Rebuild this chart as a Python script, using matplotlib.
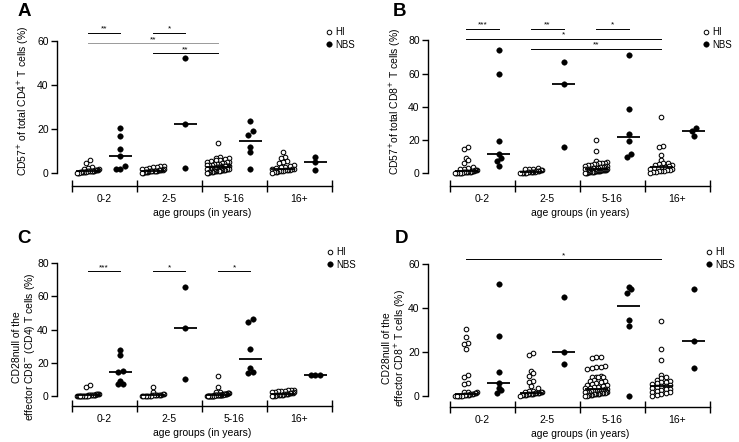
import numpy as np
import matplotlib
matplotlib.use('Agg')
import matplotlib.pyplot as plt
from matplotlib.lines import Line2D

plt.rcParams['font.family'] = ['Liberation Sans', 'DejaVu Sans']

W, H = 739, 442
groups = ['0-2', '2-5', '5-16', '16+']

# ---------------- data (values in %) ----------------
# Panel A: CD57+ of total CD4+ T cells
a_hi = [
    [6.1, 4.5, 2.6, 2.2, 1.9, 1.7, 1.5, 1.4, 1.3, 1.2, 1.1, 1.0, 1.0, 0.9, 0.9,
     0.8, 0.8, 0.7, 0.7, 0.6, 0.6, 0.5, 0.5, 0.4, 0.4, 0.3, 0.3, 0.2, 0.2, 0.1],
    [3.3, 3.1, 2.9, 2.6, 2.3, 2.0, 1.8, 1.6, 1.5, 1.4, 1.3, 1.2, 1.1, 1.0, 0.9,
     0.9, 0.8, 0.7, 0.7, 0.6, 0.5, 0.4, 0.3, 0.2, 0.1],
    [13.8, 7.2, 7.0, 6.8, 6.5, 6.0, 5.8, 5.5, 5.2, 5.0, 4.8, 4.6, 4.4, 4.2, 4.0,
     3.9, 3.8, 3.6, 3.5, 3.4, 3.3, 3.2, 3.1, 3.0, 3.0, 2.9, 2.8, 2.7, 2.6, 2.6,
     2.5, 2.4, 2.3, 2.3, 2.2, 2.1, 2.0, 2.0, 1.9, 1.8, 1.7, 1.7, 1.6, 1.5, 1.4,
     1.4, 1.3, 1.2, 1.1, 1.0, 1.0, 0.9, 0.8, 0.7, 0.6, 0.5, 0.4, 0.3, 0.2, 0.1],
    [9.5, 7.2, 6.8, 5.5, 5.0, 4.5, 3.6, 3.2, 2.8, 2.5, 2.2, 2.0, 1.8, 1.6, 1.5,
     1.4, 1.3, 1.2, 1.0, 0.9, 0.8, 0.6, 0.5, 0.3, 0.2],
]
a_nbs = [
    [20.6, 16.7, 10.8, 7.8, 3.2, 2.0, 2.0],
    [52.3, 22.0, 2.3],
    [23.6, 18.9, 17.4, 11.8, 9.5, 1.7],
    [7.1, 5.0, 1.5],
]

# Panel B: CD57+ of total CD8+ T cells
b_hi = [
    [15.8, 14.5, 9.3, 8.1, 6.3, 3.5, 3.0, 2.6, 2.2, 2.0, 1.8, 1.6, 1.4, 1.2, 1.0,
     0.9, 0.8, 0.7, 0.6, 0.5, 0.5, 0.4, 0.4, 0.3, 0.3, 0.2, 0.2, 0.1, 0.1, 0.0],
    [2.9, 2.7, 2.5, 2.2, 1.9, 1.6, 1.4, 1.2, 1.0, 0.9, 0.8, 0.7, 0.6, 0.5, 0.4,
     0.3, 0.3, 0.2, 0.1, 0.0],
    [20.2, 13.1, 7.0, 6.5, 6.2, 6.0, 5.8, 5.5, 5.2, 5.0, 4.8, 4.5, 4.3, 4.0, 3.8,
     3.6, 3.4, 3.2, 3.0, 2.9, 2.8, 2.6, 2.5, 2.4, 2.3, 2.2, 2.1, 2.0, 1.9, 1.8,
     1.7, 1.6, 1.5, 1.4, 1.3, 1.2, 1.1, 1.0, 0.9, 0.8, 0.7, 0.6, 0.5, 0.4, 0.3,
     0.2, 0.1],
    [33.9, 16.2, 15.5, 11.1, 8.1, 6.2, 5.8, 5.5, 5.0, 4.6, 4.2, 3.8, 3.4, 3.0, 2.8,
     2.5, 2.2, 2.0, 1.8, 1.5, 1.2, 1.0, 0.7, 0.4, 0.1],
]
b_nbs = [
    [74.3, 59.8, 19.3, 11.2, 9.0, 7.2, 4.0],
    [67.3, 53.7, 15.4],
    [71.1, 38.4, 23.8, 19.4, 11.3, 9.7],
    [27.3, 25.4, 22.6],
]

# Panel C: CD28null of the effector CD8- (CD4) T cells
c_hi = [
    [6.4, 5.6, 1.5, 1.3, 1.2, 1.0, 0.9, 0.8, 0.7, 0.6, 0.6, 0.5, 0.5, 0.4, 0.4,
     0.3, 0.3, 0.3, 0.2, 0.2, 0.2, 0.1, 0.1, 0.1, 0.0, 0.0, 0.0, 0.0],
    [5.2, 2.2, 1.2, 1.0, 0.9, 0.8, 0.7, 0.6, 0.5, 0.5, 0.4, 0.4, 0.3, 0.3, 0.2,
     0.2, 0.1, 0.1, 0.0, 0.0],
    [12.1, 5.4, 2.4, 2.2, 2.0, 1.8, 1.6, 1.5, 1.4, 1.3, 1.2, 1.1, 1.0, 1.0, 0.9,
     0.9, 0.8, 0.8, 0.7, 0.7, 0.6, 0.6, 0.5, 0.5, 0.5, 0.4, 0.4, 0.4, 0.3, 0.3,
     0.3, 0.2, 0.2, 0.2, 0.1, 0.1, 0.1, 0.0, 0.0, 0.0],
    [3.8, 3.6, 3.5, 3.2, 3.0, 2.8, 2.6, 2.4, 2.2, 2.0, 1.8, 1.6, 1.4, 1.2, 1.1,
     1.0, 0.9, 0.8, 0.7, 0.6, 0.5, 0.4, 0.3, 0.2, 0.1],
]
c_nbs = [
    [27.7, 24.8, 14.8, 14.4, 9.2, 7.0, 7.0],
    [65.9, 40.8, 10.1],
    [46.4, 44.8, 28.1, 16.7, 14.7, 13.7],
    [12.9, 12.6, 12.5],
]

# Panel D: CD28null of the effector CD8+ T cells
d_hi = [
    [30.3, 26.7, 24.0, 23.6, 21.5, 9.5, 8.5, 6.1, 5.6, 2.0, 1.8, 1.6, 1.4, 1.2,
     1.0, 0.8, 0.7, 0.6, 0.5, 0.4, 0.3, 0.3, 0.2, 0.2, 0.1, 0.1, 0.0, 0.0],
    [19.4, 18.5, 11.5, 10.3, 9.2, 7.0, 6.5, 4.5, 3.5, 2.5, 2.2, 2.0, 1.8, 1.6,
     1.5, 1.4, 1.3, 1.2, 1.1, 1.0, 0.9, 0.8, 0.7, 0.6, 0.5, 0.4, 0.3, 0.2],
    [17.7, 17.6, 17.5, 13.7, 13.3, 13.0, 12.7, 12.4, 9.0, 8.8, 8.7, 8.6, 8.5,
     7.2, 7.0, 6.8, 6.5, 6.0, 5.5, 5.2, 5.0, 4.6, 4.2, 4.0, 3.8, 3.5, 3.2, 3.0,
     2.8, 2.6, 2.5, 2.4, 2.3, 2.2, 2.1, 2.0, 1.9, 1.8, 1.7, 1.6, 1.5, 1.4, 1.3,
     1.2, 1.1, 1.0, 0.9, 0.8, 0.7, 0.6, 0.5, 0.4, 0.3, 0.2, 0.1],
    [34.2, 21.5, 16.5, 9.5, 8.8, 8.2, 7.5, 7.0, 6.5, 6.2, 5.8, 5.5, 5.0, 4.7,
     4.5, 4.2, 3.8, 3.3, 3.0, 2.6, 2.2, 2.0, 1.6, 1.2, 0.8, 0.5, 0.2],
]
d_nbs = [
    [50.8, 27.3, 11.0, 6.0, 3.8, 2.7, 1.2],
    [45.2, 20.2, 14.4],
    [49.7, 48.5, 47.0, 34.5, 32.0, 0.0],
    [48.8, 25.2, 12.9],
]

# significance brackets: (group_a, series_a, group_b, series_b, level, label); series 0=HI, 1=NBS
a_sig = [(0, 0, 0, 1, 63.5, '**'), (1, 0, 1, 1, 63.5, '*'),
         (0, 0, 2, 0, 58.8, '**'), (1, 0, 2, 0, 54.3, '**')]
b_sig = [(0, 0, 0, 1, 87.0, '***'), (1, 0, 1, 1, 87.0, '**'), (2, 0, 2, 1, 87.0, '*'),
         (0, 0, 3, 0, 81.0, '*'), (1, 0, 3, 0, 75.0, '**')]
c_sig = [(0, 0, 0, 1, 75.2, '***'), (1, 0, 1, 1, 75.2, '*'), (2, 0, 2, 1, 75.2, '*')]
d_sig = [(0, 0, 3, 0, 62.1, '*')]

panels = [
    dict(letter='A', hi=a_hi, nbs=a_nbs, sig=a_sig, ymax=60, yticks=[0, 20, 40, 60],
         ylabel='CD57$^{+}$ of total CD4$^{+}$ T cells (%)',
         yax=57, x0=71.7, x1=331.7, y0=173, ytop=40.7, xax=186, top=8,
         ylab_x=31, ylab_y=101, letter_xy=(24, 12), leg_xy=(326, 27),
         gray=[2]),
    dict(letter='B', hi=b_hi, nbs=b_nbs, sig=b_sig, ymax=80, yticks=[0, 20, 40, 60, 80],
         ylabel='CD57$^{+}$of total CD8$^{+}$ T cells (%)',
         yax=428, x0=450, x1=710, y0=173, ytop=40.5, xax=186, top=8,
         ylab_x=403, ylab_y=101, letter_xy=(400, 12), leg_xy=(703, 27),
         gray=[]),
    dict(letter='C', hi=c_hi, nbs=c_nbs, sig=c_sig, ymax=80, yticks=[0, 20, 40, 60, 80],
         ylabel='CD28null of the\neffector CD8$^{-}$ (CD4) T cells (%)',
         yax=57, x0=71.7, x1=331.7, y0=396, ytop=263.3, xax=406, top=232,
         ylab_x=37, ylab_y=347, letter_xy=(24, 239), leg_xy=(327, 247),
         gray=[]),
    dict(letter='D', hi=d_hi, nbs=d_nbs, sig=d_sig, ymax=60, yticks=[0, 20, 40, 60],
         ylabel='CD28null of the\neffector CD8$^{+}$ T cells (%)',
         yax=428, x0=450, x1=710, y0=396, ytop=264, xax=407, top=232,
         ylab_x=408, ylab_y=348, letter_xy=(401, 239), leg_xy=(706, 247),
         gray=[]),
]

fig = plt.figure(figsize=(W / 100, H / 100), dpi=100)
fig.patch.set_facecolor('white')


def fx(px):
    return px / W


def fy(py):
    return 1 - py / H


def swarm_offsets(values, ppu, d=3.6, maxw=22.0):
    vals = np.asarray(values, float)
    order = np.argsort(vals, kind='stable')
    offs = np.zeros(len(vals))
    rows, cur, start = [], [], None
    for i in order:
        ypx = vals[i] * ppu
        if cur and ypx - start > d:
            rows.append(cur)
            cur = []
        if not cur:
            start = ypx
        cur.append(i)
    if cur:
        rows.append(cur)
    for r in rows:
        n = len(r)
        if n == 1:
            continue
        sp = min(4.4, maxw / (n - 1))
        for k, i in enumerate(r):
            offs[i] = (k - (n - 1) / 2) * sp
    return offs


POS = [0.25, 0.75]

for p in panels:
    ppu = (p['y0'] - p['ytop']) / p['ymax']      # pixels per data unit (y)
    ppx = (p['x1'] - p['x0']) / 4.0             # pixels per group (x)
    ax = fig.add_axes([fx(p['yax']), fy(p['xax']),
                       fx(p['x1'] - p['yax']), (p['xax'] - p['top']) / H])
    ax.set_xlim(-(p['x0'] - p['yax']) / ppx, 4)
    ax.set_ylim(-(p['xax'] - p['y0']) / ppu, (p['y0'] - p['top']) / ppu)
    ax.patch.set_alpha(0)

    for g in range(4):
        for s, data in enumerate([p['hi'], p['nbs']]):
            vals = np.asarray(data[g], float)
            xc = g + POS[s]
            offs = swarm_offsets(vals, ppu) / ppx
            if s == 0:
                ax.scatter(xc + offs, vals, s=11, facecolors='white', edgecolors='black',
                           linewidths=0.75, zorder=3, clip_on=False)
            else:
                ax.scatter(xc + offs, vals, s=16, facecolors='black', edgecolors='black',
                           linewidths=0.3, zorder=3, clip_on=False)
            med = np.median(vals)
            ax.hlines(med, xc - 0.18, xc + 0.18, color='black', lw=1.3, zorder=4)

    # significance brackets
    for k, (ga, sa, gb, sb, lev, lab) in enumerate(p['sig']):
        xa, xb = ga + POS[sa], gb + POS[sb]
        col = '#9a9a9a' if k in p['gray'] else 'black'
        ax.plot([xa, xb], [lev, lev], color=col, lw=0.7, clip_on=False)
        ax.annotate(lab, xy=((xa + xb) / 2, lev), xytext=(0, 0.2), textcoords='offset points',
                    ha='center', va='bottom', fontsize=6, annotation_clip=False)

    # spines
    for sp in ['top', 'right']:
        ax.spines[sp].set_visible(False)
    ax.spines['left'].set_bounds(0, p['ymax'])
    ax.spines['bottom'].set_bounds(0, 4)
    ax.spines['left'].set_linewidth(1.0)
    ax.spines['bottom'].set_linewidth(1.0)

    ax.set_yticks(p['yticks'])
    ax.tick_params(axis='y', direction='out', length=4, width=1.0, labelsize=7.5, pad=2)
    ax.set_xticks([0, 1, 2, 3, 4])
    ax.set_xticklabels([])
    ax.tick_params(axis='x', which='major', direction='inout', length=8, width=1.0)
    ax.set_xticks([0.5, 1.5, 2.5, 3.5], minor=True)
    ax.set_xticklabels(groups, minor=True)
    ax.tick_params(axis='x', which='minor', length=0, labelsize=7.5, pad=5.5)

    ax.set_xlabel('age groups (in years)', fontsize=7.5)
    ax.xaxis.set_label_coords(fx((p['x0'] + p['x1']) / 2), fy(p['xax'] + 22),
                              transform=fig.transFigure)
    ax.set_ylabel(p['ylabel'], fontsize=7.5, linespacing=1.1)
    ax.yaxis.set_label_coords(fx(p['ylab_x']), fy(p['ylab_y']), transform=fig.transFigure)

    fig.text(fx(p['letter_xy'][0]), fy(p['letter_xy'][1]), p['letter'],
             fontsize=13.5, fontweight='bold', ha='center', va='center')

    handles = [Line2D([], [], ls='none', marker='o', ms=3.3, mfc='white', mec='black', mew=0.7),
               Line2D([], [], ls='none', marker='o', ms=4.0, mfc='black', mec='black', mew=0.3)]
    ax.legend(handles, ['HI', 'NBS'], loc='upper left',
              bbox_to_anchor=(fx(p['leg_xy'][0]), fy(p['leg_xy'][1])),
              bbox_transform=fig.transFigure, frameon=False, fontsize=7,
              handlelength=0.6, handletextpad=0.35, labelspacing=0.28,
              borderpad=0, borderaxespad=0)

fig.savefig('out.png', dpi=100, facecolor='white')
